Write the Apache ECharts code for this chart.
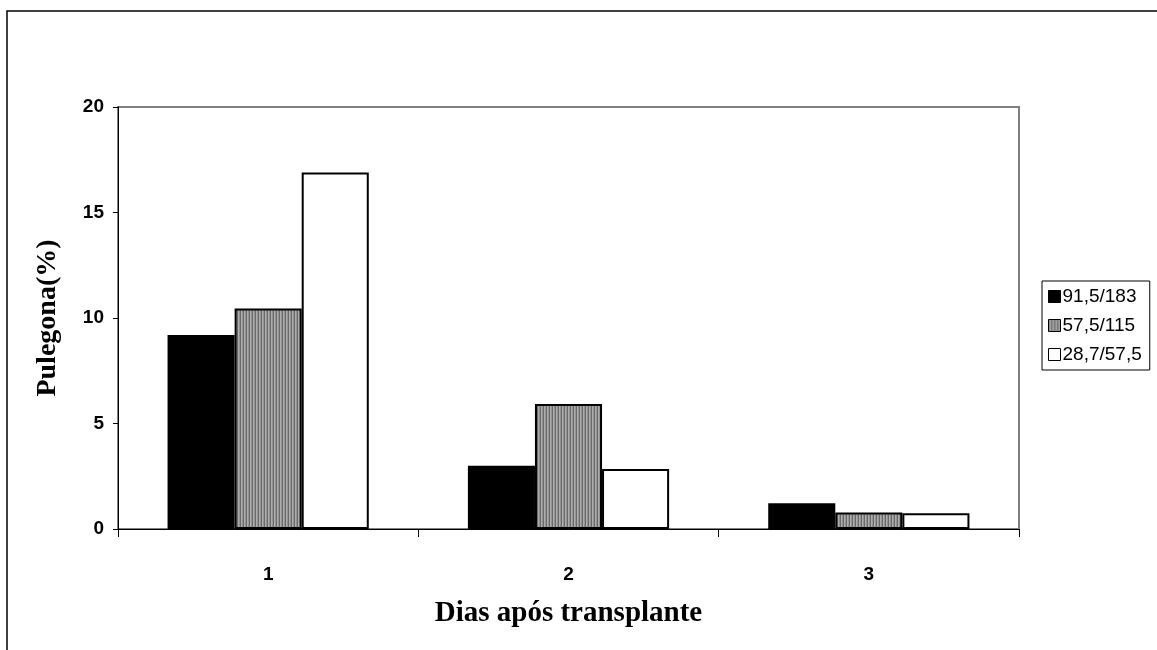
<!DOCTYPE html>
<html>
<head>
<meta charset="utf-8">
<script src="https://cdn.jsdelivr.net/npm/echarts@6/dist/echarts.min.js"></script>
<style>html,body{margin:0;padding:0;background:#fff}#c{width:1157px;height:650px}</style>
</head>
<body>
<div id="c"></div>
<script>
var categories = ['1', '2', '3'];
var seriesNames = ['91,5/183', '57,5/115', '28,7/57,5'];
var s1 = [9.2, 3.0, 1.22];
var s2 = [10.45, 5.92, 0.78];
var s3 = [16.9, 2.84, 0.75];
var yTicks = [0, 5, 10, 15, 20];

var cv = document.createElement('canvas');
cv.width = 3; cv.height = 4;
var cx = cv.getContext('2d');
cx.fillStyle = '#acacac'; cx.fillRect(0, 0, 3, 4);
cx.fillStyle = '#6a6a6a'; cx.fillRect(0, 0, 1, 4);
cx.fillStyle = '#939393'; cx.fillRect(2, 0, 1, 4);
var grayPattern = { image: cv, repeat: 'repeat' };

var fills = ['#000000', grayPattern, '#ffffff'];
var datas = [s1, s2, s3];

var chart = echarts.init(document.getElementById('c'), null, { renderer: 'canvas' });
chart.setOption({
  animation: false,
  backgroundColor: '#ffffff',
  grid: { left: 118, right: 138, top: 107, bottom: 121, show: true, borderColor: '#808080', borderWidth: 2, backgroundColor: 'transparent' },
  legend: {
    orient: 'vertical', left: 1042, top: 281,
    padding: [6, 8, 6, 6], itemGap: 10, itemWidth: 12, itemHeight: 12,
    borderColor: '#000', borderWidth: 1, icon: 'rect',
    itemStyle: { borderColor: '#000', borderWidth: 1 },
    textStyle: { fontFamily: 'Liberation Sans, Arial, sans-serif', fontSize: 19, color: '#000', padding: [0, 0, 0, -3] },
    data: seriesNames
  },
  xAxis: {
    type: 'category', data: categories,
    axisLine: { lineStyle: { color: '#000', width: 1 } },
    axisTick: { show: true, length: 8, inside: false, lineStyle: { color: '#000' } },
    axisLabel: { margin: 36, fontFamily: 'Liberation Sans, Arial, sans-serif', fontWeight: 'bold', fontSize: 19, color: '#000' },
    name: 'Dias após transplante', nameLocation: 'middle', nameGap: 70,
    nameTextStyle: { fontFamily: 'Liberation Serif, Times New Roman, serif', fontWeight: 'bold', fontSize: 29, color: '#000' }
  },
  yAxis: {
    type: 'value', min: 0, max: 20, interval: 5,
    axisLine: { show: true, lineStyle: { color: '#000', width: 1 } },
    axisTick: { show: true, length: 5, lineStyle: { color: '#000' } },
    splitLine: { show: false },
    axisLabel: { margin: 14, fontFamily: 'Liberation Sans, Arial, sans-serif', fontWeight: 'bold', fontSize: 19, color: '#000',
      formatter: function (v) { return yTicks.indexOf(v) >= 0 ? String(v) : ''; } },
    name: 'Pulegona(%)', nameLocation: 'middle', nameGap: 56, nameRotate: 90,
    nameTextStyle: { fontFamily: 'Liberation Serif, Times New Roman, serif', fontWeight: 'bold', fontSize: 28, color: '#000' }
  },
  series: datas.map(function (d, i) {
    return {
      name: seriesNames[i], type: 'bar', data: d,
      barGap: '0%', barCategoryGap: '33%',
      itemStyle: { color: fills[i], borderColor: '#000', borderWidth: 2 }
    };
  }),
  graphic: [{
    type: 'rect', silent: true, z: 100,
    shape: { x: 7, y: 11, width: 1170, height: 660 },
    style: { fill: 'none', stroke: '#000', lineWidth: 1.5 }
  }]
});
</script>
</body>
</html>
